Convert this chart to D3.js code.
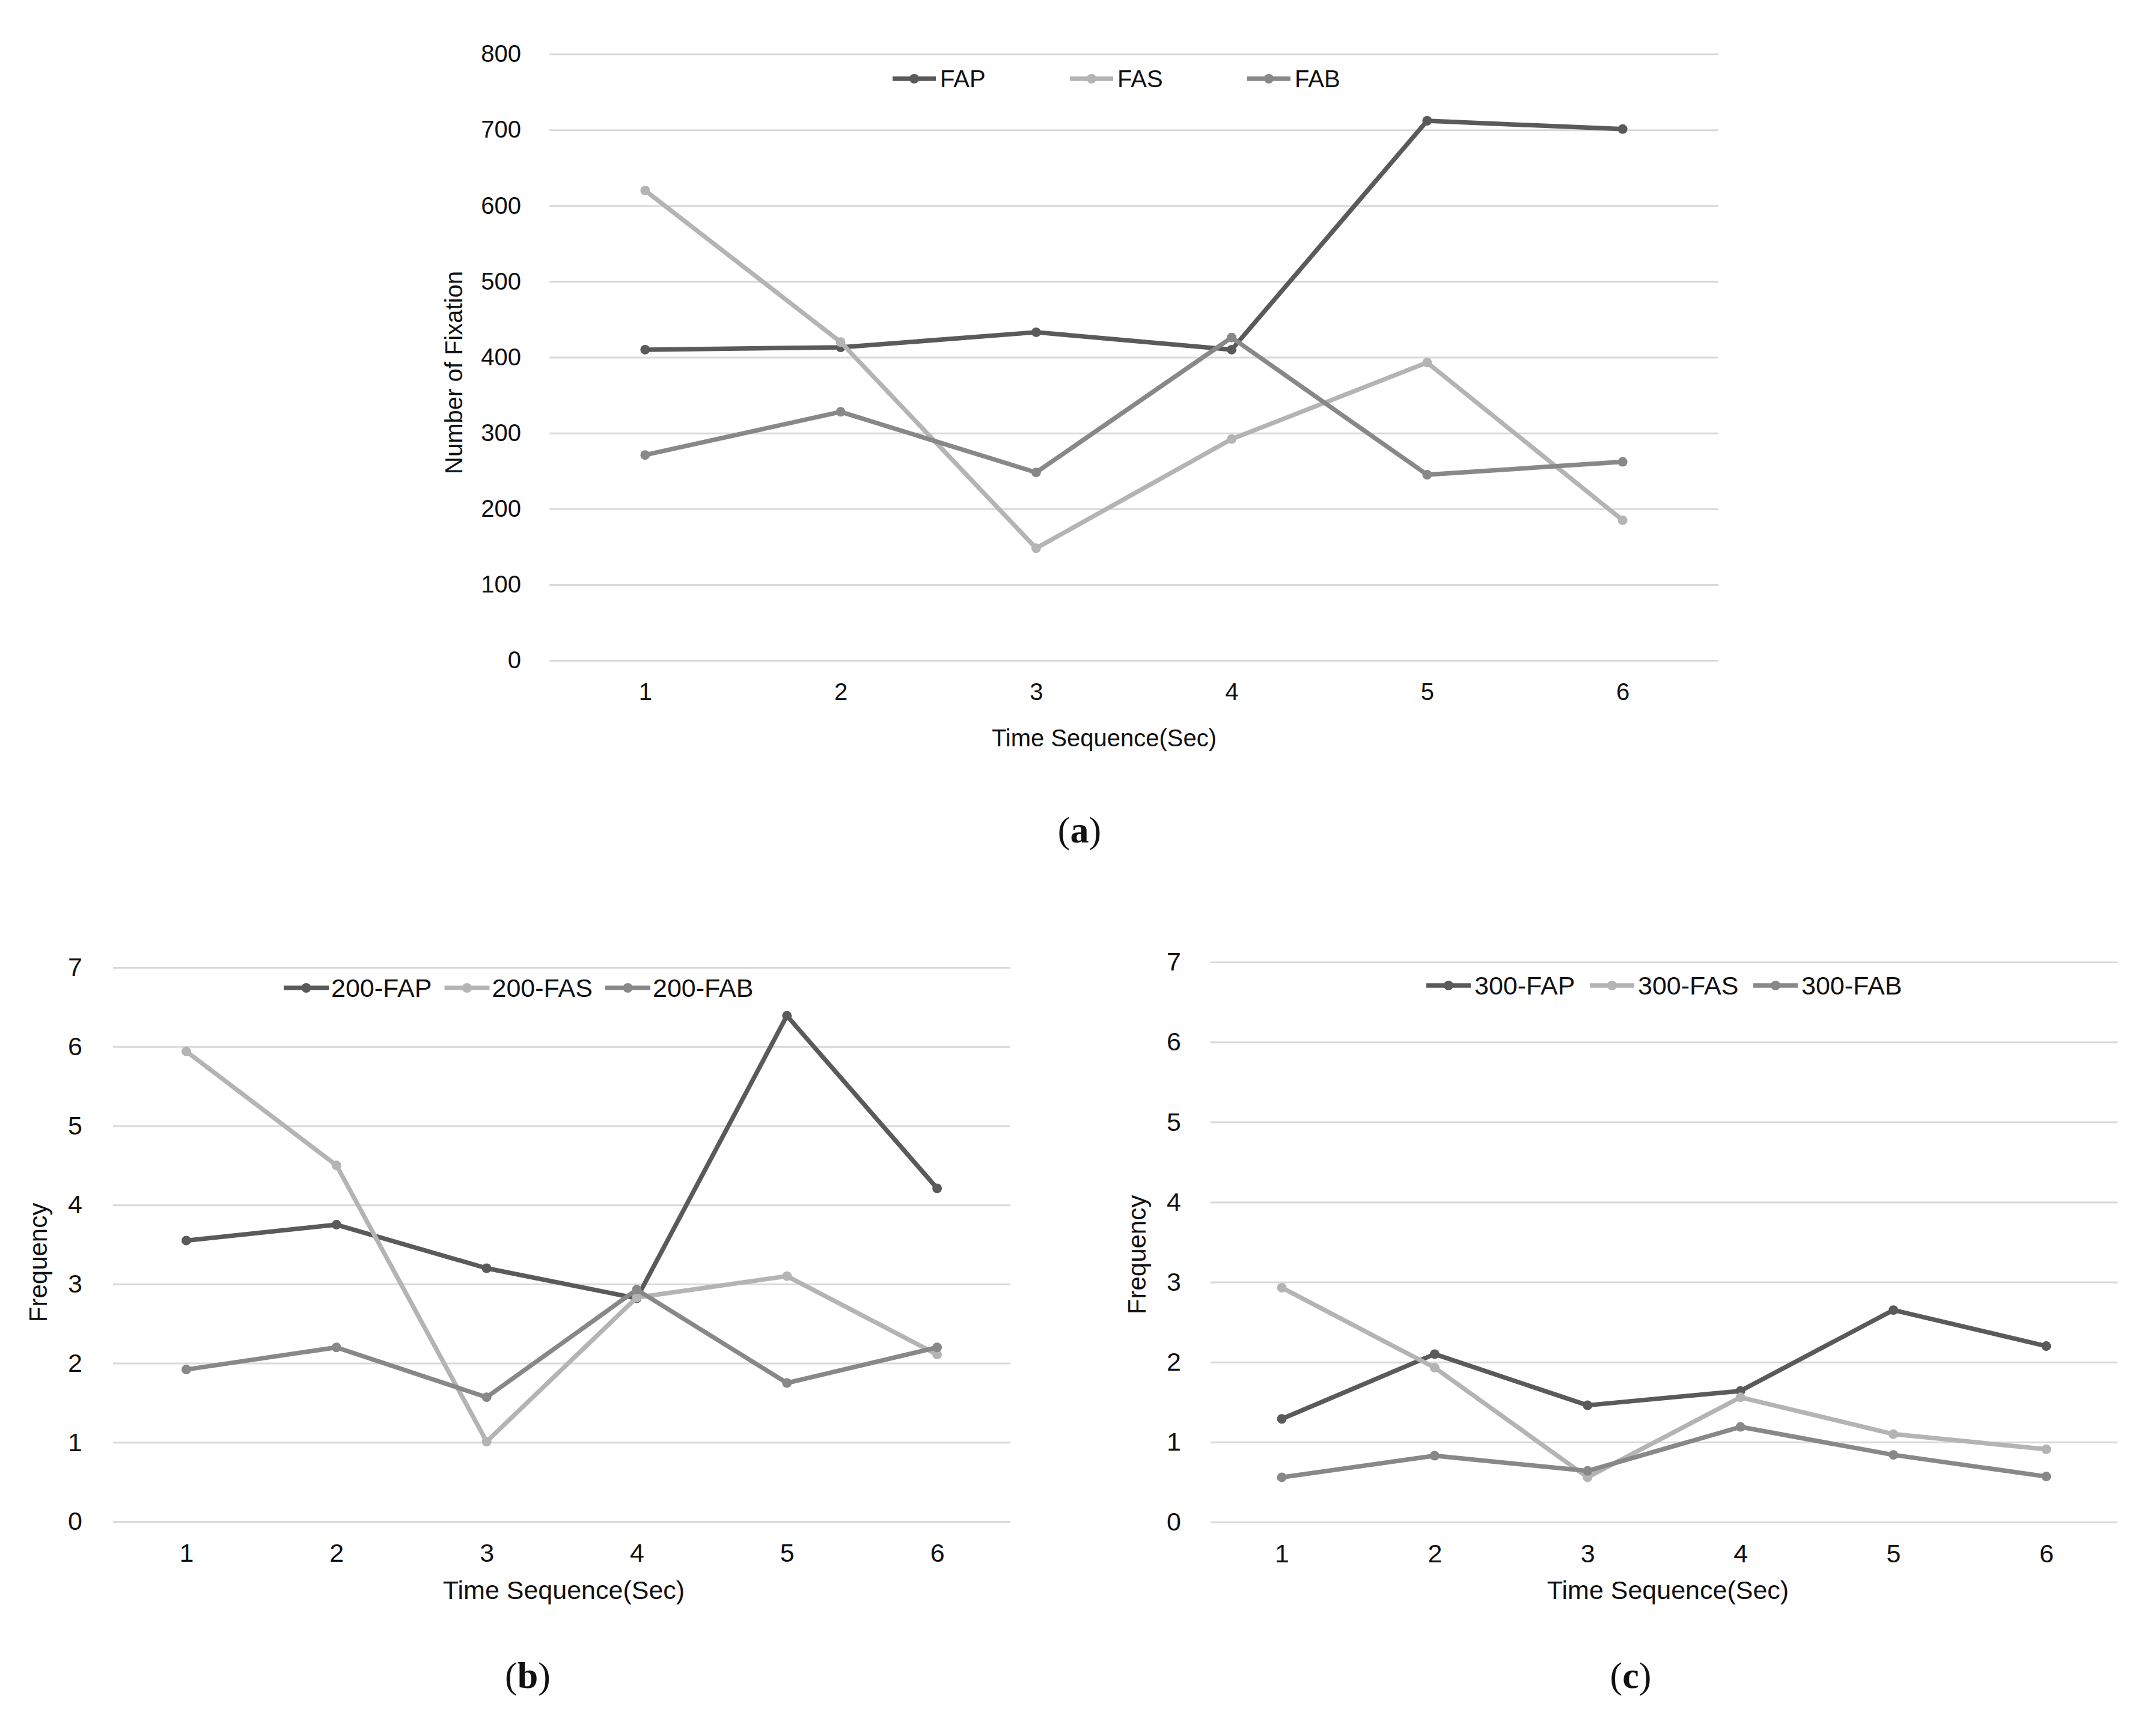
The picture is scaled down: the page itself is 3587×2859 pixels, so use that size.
<!DOCTYPE html>
<html>
<head>
<meta charset="utf-8">
<script src="https://d3js.org/d3.v7.min.js"></script>
<style>
  body { margin: 0; background: #fff; }
  text { font-family: "Liberation Sans", Arial, sans-serif; fill: #111; }
</style>
</head>
<body>
<div id="chart"></div>
<script>
// values
var timeSeq = [1, 2, 3, 4, 5, 6];

var fixTicks = [0, 100, 200, 300, 400, 500, 600, 700, 800];
var fixFAP = [410, 413, 433, 410, 712, 701];
var fixFAS = [620, 420, 148, 292, 393, 185];
var fixFAB = [271, 328, 248, 426, 245, 262];

var freqTicks = [0, 1, 2, 3, 4, 5, 6, 7];
var freq200FAP = [3.55, 3.75, 3.20, 2.82, 6.39, 4.21];
var freq200FAS = [5.94, 4.50, 1.01, 2.83, 3.10, 2.11];
var freq200FAB = [1.92, 2.20, 1.57, 2.93, 1.75, 2.20];

var freq300FAP = [1.29, 2.10, 1.46, 1.64, 2.65, 2.20];
var freq300FAS = [2.93, 1.93, 0.56, 1.56, 1.10, 0.91];
var freq300FAB = [0.56, 0.83, 0.64, 1.19, 0.84, 0.57];

var colors = { FAP: '#5a5a5a', FAS: '#b4b4b4', FAB: '#888888' };

var svg = d3.select('#chart').append('svg')
  .attr('width', 3587)
  .attr('height', 2859);

function drawPanel(p) {
  var g = svg.append('g');

  var x = d3.scalePoint()
    .domain(timeSeq)
    .range([p.left, p.right])
    .padding(p.xPadding);

  var y = d3.scaleLinear()
    .domain([0, d3.max(p.ticks)])
    .range([p.bottom, p.top]);

  // gridlines + y tick labels
  var yAxis = g.append('g')
    .attr('transform', 'translate(' + p.left + ',0)')
    .call(d3.axisLeft(y)
      .tickValues(p.ticks)
      .tickSize(-(p.right - p.left))
      .tickPadding(p.yPad)
      .tickFormat(d3.format('d')));
  yAxis.select('.domain').remove();
  yAxis.selectAll('line').attr('stroke', '#d9d9d9').attr('stroke-width', 3);
  yAxis.selectAll('text')
    .attr('font-size', p.tickSize)
    .attr('fill', '#111')
    .style('font-family', '"Liberation Sans", Arial, sans-serif');

  // x tick labels
  var xAxis = g.append('g')
    .attr('transform', 'translate(0,' + p.bottom + ')')
    .call(d3.axisBottom(x).tickSize(0).tickPadding(p.xPad));
  xAxis.select('.domain').remove();
  xAxis.selectAll('text')
    .attr('font-size', p.tickSize)
    .attr('fill', '#111')
    .style('font-family', '"Liberation Sans", Arial, sans-serif');

  // series
  var line = d3.line()
    .x(function(d, i) { return x(timeSeq[i]); })
    .y(function(d) { return y(d); });

  p.series.forEach(function(s) {
    g.append('path')
      .datum(s.values)
      .attr('d', line)
      .attr('fill', 'none')
      .attr('stroke', s.color)
      .attr('stroke-width', 7.5)
      .attr('stroke-linejoin', 'round');

    g.selectAll(null)
      .data(s.values)
      .enter().append('circle')
      .attr('cx', function(d, i) { return x(timeSeq[i]); })
      .attr('cy', function(d) { return y(d); })
      .attr('r', 8)
      .attr('fill', s.color);
  });

  // legend
  var leg = g.append('g');
  p.series.forEach(function(s, i) {
    var lx = p.legX + i * p.legStep;
    leg.append('line')
      .attr('x1', lx).attr('x2', lx + p.legLine)
      .attr('y1', p.legY).attr('y2', p.legY)
      .attr('stroke', s.color)
      .attr('stroke-width', 7.5);
    leg.append('circle')
      .attr('cx', lx + p.legLine / 2)
      .attr('cy', p.legY)
      .attr('r', 8)
      .attr('fill', s.color);
    leg.append('text')
      .attr('x', lx + p.legLine + p.legGap)
      .attr('y', p.legY)
      .attr('dy', '0.36em')
      .attr('font-size', p.legSize)
      .text(s.name);
  });

  // axis titles
  g.append('text')
    .attr('x', p.xTitleX)
    .attr('y', p.xTitleY)
    .attr('text-anchor', 'middle')
    .attr('font-size', p.xTitleSize)
    .text('Time Sequence(Sec)');

  g.append('text')
    .attr('transform', 'translate(' + p.yTitleX + ',' + p.yTitleY + ') rotate(-90)')
    .attr('dy', '0.36em')
    .attr('text-anchor', 'middle')
    .attr('font-size', p.yTitleSize)
    .text(p.yTitle);

  // panel label
  var lab = g.append('text')
    .attr('x', p.labX)
    .attr('y', p.labY)
    .attr('text-anchor', 'middle')
    .attr('font-size', 62)
    .style('font-family', '"Liberation Serif", "Times New Roman", serif');
  lab.append('tspan').text('(');
  lab.append('tspan').attr('font-weight', 'bold').text(p.label);
  lab.append('tspan').text(')');
}

drawPanel({
  left: 914, right: 2859, top: 90, bottom: 1099, xPadding: 0.49,
  ticks: fixTicks, tickSize: 40, yPad: 47, xPad: 38,
  series: [
    { name: 'FAP', values: fixFAP, color: colors.FAP },
    { name: 'FAS', values: fixFAS, color: colors.FAS },
    { name: 'FAB', values: fixFAB, color: colors.FAB }
  ],
  legX: 1485, legY: 131, legStep: 295, legLine: 72, legGap: 7, legSize: 40,
  xTitleX: 1837, xTitleY: 1242, xTitleSize: 40,
  yTitle: 'Number of Fixation', yTitleX: 755, yTitleY: 620, yTitleSize: 40,
  label: 'a', labX: 1796, labY: 1402
});

drawPanel({
  left: 188, right: 1681, top: 1610, bottom: 2532, xPadding: 0.488,
  ticks: freqTicks, tickSize: 43, yPad: 51, xPad: 36,
  series: [
    { name: '200-FAP', values: freq200FAP, color: colors.FAP },
    { name: '200-FAS', values: freq200FAS, color: colors.FAS },
    { name: '200-FAB', values: freq200FAB, color: colors.FAB }
  ],
  legX: 472, legY: 1644, legStep: 267.5, legLine: 75, legGap: 4, legSize: 43,
  xTitleX: 938, xTitleY: 2661, xTitleSize: 43,
  yTitle: 'Frequency', yTitleX: 63, yTitleY: 2101, yTitleSize: 42,
  label: 'b', labX: 878, labY: 2809
});

drawPanel({
  left: 2014, right: 3523, top: 1601, bottom: 2533, xPadding: 0.466,
  ticks: freqTicks, tickSize: 43, yPad: 49, xPad: 36,
  series: [
    { name: '300-FAP', values: freq300FAP, color: colors.FAP },
    { name: '300-FAS', values: freq300FAS, color: colors.FAS },
    { name: '300-FAB', values: freq300FAB, color: colors.FAB }
  ],
  legX: 2373, legY: 1640, legStep: 272, legLine: 74, legGap: 6, legSize: 43,
  xTitleX: 2775, xTitleY: 2661, xTitleSize: 43,
  yTitle: 'Frequency', yTitleX: 1891, yTitleY: 2088, yTitleSize: 42,
  label: 'c', labX: 2713, labY: 2809
});
</script>
</body>
</html>
